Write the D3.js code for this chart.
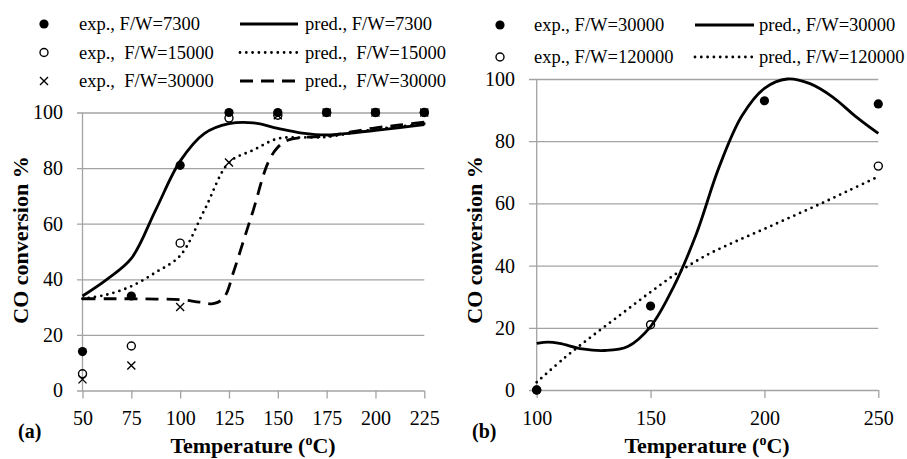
<!DOCTYPE html>
<html>
<head>
<meta charset="utf-8">
<script src="https://cdn.jsdelivr.net/npm/d3@7"></script>
<style>
  html, body { margin: 0; padding: 0; background: #fff; }
  svg { display: block; font-family: "Liberation Serif", "Times New Roman", serif; }
  text { fill: #000; }
</style>
</head>
<body>
<svg id="chart" width="907" height="459"></svg>
<script>
// ---------- Panel (a): experimental conversion at three space velocities ----------
const tempsA = [50, 75, 100, 125, 150, 175, 200, 225];
const expA7300  = [14, 34, 81, 100, 100, 100, 100, 100];
const expA15000 = [6, 16, 53, 98, 99, 100, 100, 100];
const expA30000 = [4, 9, 30, 82, 99, 100, 100, 100];

// Panel (a): model predictions
const predTempsA7300 = [50, 62.5, 75, 87.5, 100, 112.5, 125, 137.5, 150, 162.5, 175, 187.5, 200, 212.5, 225];
const predA7300      = [34, 40, 47.5, 65, 82.5, 92.5, 96, 96.3, 94.3, 92.6, 91.9, 92.6, 93.6, 94.6, 95.6];
const predTempsA15000 = [50, 62.5, 75, 87.5, 100, 112.5, 125, 137.5, 150, 162.5, 175, 187.5, 200, 212.5, 225];
const predA15000      = [33, 34.5, 37.5, 42.5, 48.5, 65, 82, 86.5, 90.6, 91, 91.2, 92.6, 94, 95, 96];
const predTempsA30000 = [50, 62.5, 75, 87.5, 100, 110, 117.5, 122.5, 127.5, 132.5, 137.5, 145, 150, 155, 162.5, 175, 187.5, 200, 212.5, 225];
const predA30000      = [33, 33, 33, 32.9, 32.7, 31.8, 31.3, 33.5, 43, 54, 65, 82, 87.5, 90, 91, 91.5, 93, 94.5, 95.5, 96.5];

// ---------- Panel (b) ----------
const tempsB = [100, 150, 200, 250];
const expB30000  = [0, 27, 93, 92];
const tempsB120000 = [100, 150, 250];
const expB120000 = [0, 21, 72];

const predTempsB30000 = [100, 105, 110, 120, 130, 140, 150, 160, 170, 180, 190, 200, 210, 220, 230, 240, 250];
const predB30000      = [15, 15.4, 15, 13.2, 12.7, 14, 20.4, 33, 50, 71.5, 88, 97, 100, 98.5, 94.2, 88, 82.5];
const predTempsB120000 = [100, 112.5, 125, 137.5, 150, 162.5, 175, 187.5, 200, 212.5, 225, 237.5, 250];
const predB120000      = [2.5, 10.5, 17.7, 24.6, 31.5, 38, 43.5, 47.8, 51.8, 55.9, 60, 64.3, 68.6];

const yTicks = [0, 20, 40, 60, 80, 100];

// legend entries
const legendA = [
  { exp: "exp., F/W=7300",    pred: "pred., F/W=7300",    marker: "filled", dash: "solid" },
  { exp: "exp.,  F/W=15000",  pred: "pred.,  F/W=15000",  marker: "open",   dash: "dotted" },
  { exp: "exp.,  F/W=30000",  pred: "pred.,  F/W=30000",  marker: "cross",  dash: "dashed" }
];
const legendB = [
  { exp: "exp., F/W=30000",  pred: "pred., F/W=30000",  marker: "filled", dash: "solid" },
  { exp: "exp., F/W=120000", pred: "pred., F/W=120000", marker: "open",   dash: "dotted" }
];

const svg = d3.select("#chart");
const GRID = "#a3a3a3";

const dashStyles = {
  solid:  { dash: null,   cap: "butt" },
  dotted: { dash: "0 6.3", cap: "round" },
  dashed: { dash: "13 8", cap: "butt" }
};

function drawMarker(g, type, x, y) {
  if (type === "filled") {
    g.append("circle").attr("cx", x).attr("cy", y).attr("r", 4.6).attr("fill", "#000");
  } else if (type === "open") {
    g.append("circle").attr("cx", x).attr("cy", y).attr("r", 4)
      .attr("fill", "none").attr("stroke", "#000").attr("stroke-width", 1.4);
  } else {
    const s = 4;
    g.append("path")
      .attr("d", `M${x - s},${y - s}L${x + s},${y + s}M${x - s},${y + s}L${x + s},${y - s}`)
      .attr("stroke", "#000").attr("stroke-width", 1.4).attr("fill", "none");
  }
}

function styleLine(sel, kind) {
  const st = dashStyles[kind];
  sel.attr("fill", "none").attr("stroke", "#000").attr("stroke-width", 2.8)
    .attr("stroke-linecap", st.cap);
  if (st.dash) sel.attr("stroke-dasharray", st.dash);
  return sel;
}

function panel(opts) {
  const { x, y, gridLeft, xTicks, label, titleX, titleCenterX, yTitleX, series, preds } = opts;
  const g = svg.append("g");

  // horizontal gridlines + y tick labels
  const yAxis = d3.axisLeft(y).tickValues(yTicks)
    .tickSize(-(x.range()[1] - gridLeft)).tickPadding(14);
  const ga = g.append("g").attr("transform", `translate(${gridLeft},0)`).call(yAxis);
  ga.select(".domain").remove();
  ga.selectAll(".tick line").attr("stroke", GRID).attr("stroke-width", 1.3);
  ga.selectAll(".tick text").attr("font-size", 20).attr("font-family", "Liberation Serif").attr("fill", "#000");

  // x axis ticks and labels
  const xAxis = d3.axisBottom(x).tickValues(xTicks).tickSize(8).tickPadding(12.5).tickFormat(d3.format("d"));
  const gx = g.append("g").attr("transform", `translate(0,${y(0)})`).call(xAxis);
  gx.select(".domain").remove();
  gx.selectAll(".tick line").attr("stroke", GRID).attr("stroke-width", 1.3);
  gx.selectAll(".tick text").attr("font-size", 20).attr("font-family", "Liberation Serif").attr("fill", "#000");

  // vertical axis line
  g.append("line")
    .attr("x1", x.range()[0]).attr("x2", x.range()[0])
    .attr("y1", y(100)).attr("y2", y(0))
    .attr("stroke", GRID).attr("stroke-width", 1.3);

  // prediction curves (smoothed)
  const line = d3.line().x(d => x(d[0])).y(d => y(d[1])).curve(d3.curveCatmullRom.alpha(0.5));
  preds.forEach(p => {
    const pts = p.t.map((t, i) => [t, p.v[i]]);
    styleLine(g.append("path").attr("d", line(pts)), p.kind);
  });

  // experimental points
  series.forEach(s => {
    s.t.forEach((t, i) => drawMarker(g, s.marker, x(t), y(s.v[i])));
  });

  // axis titles
  const xt = g.append("text").attr("x", titleCenterX).attr("y", 453)
    .attr("text-anchor", "middle").attr("font-size", 22).attr("font-weight", "bold");
  xt.append("tspan").text("Temperature (");
  xt.append("tspan").attr("font-size", 14).attr("dy", -8).text("o");
  xt.append("tspan").attr("dy", 8).text("C)");

  g.append("text")
    .attr("transform", `translate(${yTitleX},240) rotate(-90)`)
    .attr("text-anchor", "middle").attr("font-size", 22).attr("font-weight", "bold")
    .text("CO conversion %");

  g.append("text").attr("x", titleX).attr("y", 438)
    .attr("font-size", 20).attr("font-weight", "bold").text(label);
}

function legend(items, o) {
  const g = svg.append("g");
  items.forEach((it, i) => {
    const cy = o.rows[i];
    drawMarker(g, it.marker, o.markerX, cy);
    g.append("text").attr("x", o.textX).attr("y", cy).attr("dy", "0.33em")
      .attr("font-size", 18.5).attr("xml:space", "preserve").style("white-space", "pre").text(it.exp);
    styleLine(g.append("line").attr("x1", o.lineX0).attr("x2", o.lineX1)
      .attr("y1", cy).attr("y2", cy), it.dash);
    g.append("text").attr("x", o.predX).attr("y", cy).attr("dy", "0.33em")
      .attr("font-size", 18.5).attr("xml:space", "preserve").style("white-space", "pre").text(it.pred);
  });
}

// ---- panel (a)
const xA = d3.scaleLinear().domain([50, 225]).range([82.5, 424.3]);
const yA = d3.scaleLinear().domain([0, 100]).range([390.5, 112.5]);
panel({
  x: xA, y: yA, gridLeft: 77, xTicks: tempsA, label: "(a)", titleX: 18, titleCenterX: 253, yTitleX: 27.5,
  series: [
    { t: tempsA, v: expA7300, marker: "filled" },
    { t: tempsA, v: expA15000, marker: "open" },
    { t: tempsA, v: expA30000, marker: "cross" }
  ],
  preds: [
    { t: predTempsA7300, v: predA7300, kind: "solid" },
    { t: predTempsA15000, v: predA15000, kind: "dotted" },
    { t: predTempsA30000, v: predA30000, kind: "dashed" }
  ]
});
legend(legendA, { rows: [24, 52.5, 81], markerX: 44, textX: 79, lineX0: 240, lineX1: 298, predX: 305 });

// ---- panel (b)
const xB = d3.scaleLinear().domain([100, 250]).range([536.7, 878.3]);
const yB = d3.scaleLinear().domain([0, 100]).range([390, 79]);
panel({
  x: xB, y: yB, gridLeft: 529, xTicks: tempsB, label: "(b)", titleX: 472, titleCenterX: 707, yTitleX: 482,
  series: [
    { t: tempsB, v: expB30000, marker: "filled" },
    { t: tempsB120000, v: expB120000, marker: "open" }
  ],
  preds: [
    { t: predTempsB30000, v: predB30000, kind: "solid" },
    { t: predTempsB120000, v: predB120000, kind: "dotted" }
  ]
});
legend(legendB, { rows: [25, 57], markerX: 500, textX: 534, lineX0: 695, lineX1: 754, predX: 759 });
</script>
</body>
</html>
